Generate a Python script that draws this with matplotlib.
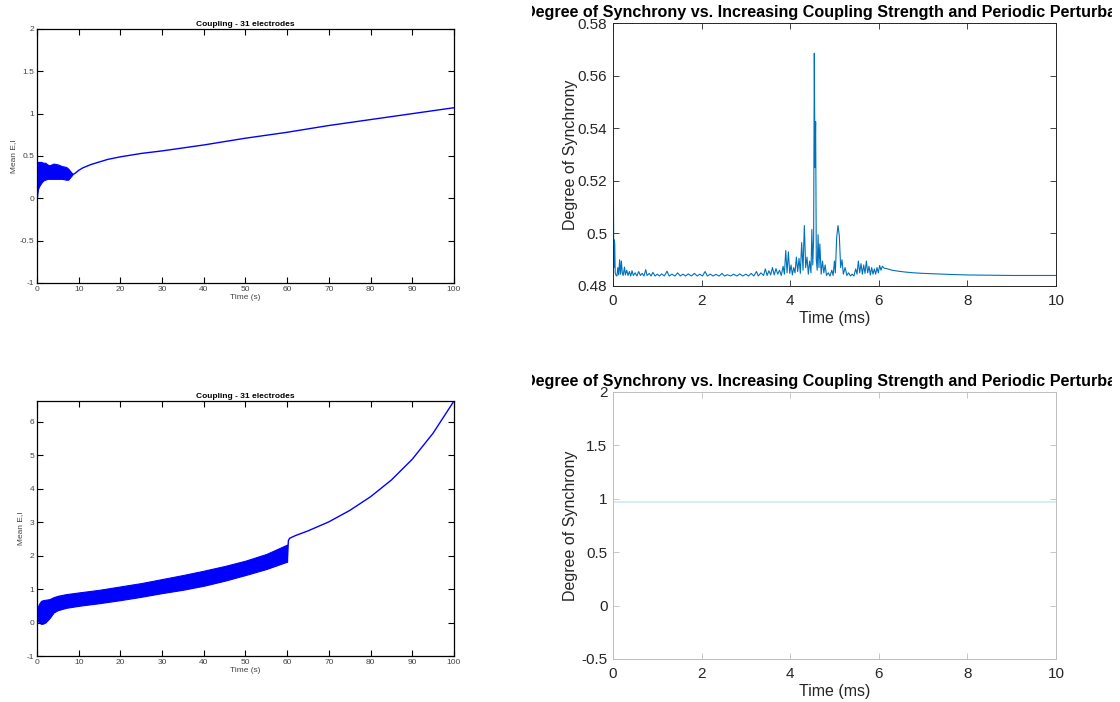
import matplotlib
matplotlib.use('Agg')
import matplotlib.pyplot as plt
from matplotlib.ticker import FormatStrFormatter
from matplotlib.transforms import Bbox

plt.rcParams['font.family'] = ['Liberation Sans', 'DejaVu Sans']

# --- Coupling panel 1 (top left): oscillating band then smooth rise ---
band1_t = [0.0, 0.1, 0.2, 0.5, 1.0, 1.5, 2.0, 2.5, 3.0, 3.5, 4.0, 5.0, 6.0, 7.0, 7.5, 8.0, 8.5]
band1_hi = [0.02, 0.30, 0.43, 0.43, 0.43, 0.42, 0.42, 0.40, 0.39, 0.40, 0.41, 0.40, 0.38, 0.37, 0.35, 0.32, 0.29]
band1_lo = [0.0, 0.06, 0.10, 0.14, 0.18, 0.21, 0.22, 0.23, 0.23, 0.23, 0.23, 0.23, 0.23, 0.22, 0.22, 0.25, 0.28]
tail1_t = [8.5, 9.0, 10.0, 11.0, 12.0, 13.0, 15.0, 17.0, 20.0, 25.0, 30.0, 40.0, 50.0, 60.0, 70.0, 80.0, 90.0, 100.0]
tail1_v = [0.28, 0.29, 0.33, 0.36, 0.38, 0.40, 0.43, 0.46, 0.49, 0.53, 0.56, 0.63, 0.71, 0.78, 0.86, 0.93, 1.00, 1.07]

# --- Coupling panel 2 (bottom left) ---
band2_t = [0.0, 0.3, 0.5, 1.0, 1.5, 2.0, 3.0, 4.0, 5.0, 7.0, 10.0, 15.0, 20.0, 25.0, 30.0, 35.0, 40.0, 45.0, 50.0, 55.0, 60.0]
band2_hi = [0.40, 0.50, 0.56, 0.65, 0.67, 0.68, 0.70, 0.76, 0.80, 0.85, 0.90, 0.98, 1.08, 1.18, 1.30, 1.42, 1.55, 1.69, 1.85, 2.05, 2.33]
band2_lo = [0.10, 0.03, 0.00, -0.04, -0.03, 0.00, 0.13, 0.30, 0.37, 0.44, 0.50, 0.58, 0.67, 0.77, 0.88, 0.98, 1.10, 1.25, 1.42, 1.60, 1.82]
tail2_t = [60.0, 60.3, 60.6, 62.0, 65.0, 70.0, 75.0, 80.0, 85.0, 90.0, 95.0, 100.0]
tail2_v = [1.82, 2.45, 2.52, 2.60, 2.74, 3.01, 3.35, 3.76, 4.26, 4.88, 5.66, 6.62]

# --- Degree of synchrony, run 1 (top right) ---
sync_t = [0.00, 0.01, 0.02, 0.03, 0.04, 0.05, 0.07, 0.09, 0.11, 0.13, 0.15, 0.17, 0.19, 0.21, 0.23,
          0.26, 0.28, 0.31, 0.34, 0.37, 0.40, 0.43, 0.46, 0.50, 0.54, 0.58, 0.62, 0.66, 0.70, 0.74,
          0.77, 0.82, 0.86, 0.90, 0.95, 1.00, 1.05, 1.10, 1.16, 1.22, 1.27, 1.33, 1.40, 1.46, 1.52,
          1.58, 1.64, 1.70, 1.77, 1.84, 1.90, 1.96, 2.02, 2.08, 2.13, 2.20, 2.26, 2.32, 2.40, 2.46,
          2.52, 2.58, 2.66, 2.72, 2.80, 2.86, 2.93, 3.00, 3.06, 3.12, 3.18, 3.24, 3.28, 3.34, 3.40,
          3.44, 3.48, 3.52, 3.56, 3.60, 3.64, 3.68, 3.72, 3.76, 3.80, 3.84, 3.87, 3.90, 3.93, 3.96,
          3.99, 4.02, 4.05, 4.08, 4.11, 4.14, 4.17, 4.20, 4.23, 4.26, 4.29, 4.32, 4.35, 4.38, 4.41,
          4.44, 4.47, 4.49, 4.51, 4.53, 4.545, 4.56, 4.575, 4.59, 4.61, 4.63, 4.65, 4.67, 4.70, 4.73,
          4.76, 4.79, 4.82, 4.86, 4.90, 4.94, 4.97, 5.00, 5.02, 5.05, 5.08, 5.11, 5.14, 5.17, 5.20,
          5.24, 5.28, 5.32, 5.36, 5.40, 5.44, 5.48, 5.51, 5.54, 5.57, 5.60, 5.63, 5.66, 5.69, 5.72,
          5.75, 5.78, 5.81, 5.84, 5.87, 5.90, 5.93, 5.96, 5.99, 6.02, 6.05, 6.08, 6.12, 6.20, 6.30,
          6.45, 6.60, 6.80, 7.00, 7.30, 7.60, 8.00, 8.50, 9.00, 9.50, 10.00]
sync_v = [0.5280, 0.5150, 0.4870, 0.4975, 0.4960, 0.4850, 0.4840, 0.4838, 0.4870, 0.4842, 0.4900, 0.4845, 0.4895, 0.4850, 0.4840,
          0.4872, 0.4842, 0.4860, 0.4840, 0.4855, 0.4838, 0.4858, 0.4840, 0.4850, 0.4838, 0.4855, 0.4840, 0.4848, 0.4838, 0.4862,
          0.4840, 0.4848, 0.4838, 0.4852, 0.4838, 0.4845, 0.4838, 0.4846, 0.4838, 0.4856, 0.4838, 0.4845, 0.4838, 0.4850, 0.4838,
          0.4845, 0.4838, 0.4846, 0.4838, 0.4848, 0.4838, 0.4845, 0.4838, 0.4855, 0.4838, 0.4845, 0.4838, 0.4844, 0.4838, 0.4848,
          0.4838, 0.4843, 0.4838, 0.4845, 0.4838, 0.4846, 0.4838, 0.4845, 0.4838, 0.4848, 0.4838, 0.4855, 0.4838, 0.4850, 0.4840,
          0.4865, 0.4840, 0.4858, 0.4842, 0.4870, 0.4842, 0.4866, 0.4845, 0.4860, 0.4840, 0.4875, 0.4845, 0.4935, 0.4850, 0.4930,
          0.4848, 0.4880, 0.4842, 0.4870, 0.4850, 0.4910, 0.4855, 0.4905, 0.4848, 0.4965, 0.4860, 0.5030, 0.4870, 0.4910, 0.4845,
          0.4895, 0.4850, 0.5015, 0.4880, 0.4980, 0.5685, 0.5250, 0.5425, 0.4900, 0.4860, 0.4995, 0.4870, 0.4960, 0.4845, 0.4895,
          0.4850, 0.4880, 0.4840, 0.4850, 0.4838, 0.4860, 0.4840, 0.4895, 0.4850, 0.4985, 0.5030, 0.4990, 0.4870, 0.4900, 0.4845,
          0.4870, 0.4840, 0.4850, 0.4838, 0.4845, 0.4838, 0.4865, 0.4845, 0.4895, 0.4850, 0.4885, 0.4845, 0.4880, 0.4848, 0.4895,
          0.4850, 0.4875, 0.4842, 0.4870, 0.4845, 0.4865, 0.4845, 0.4870, 0.4850, 0.4878, 0.4860, 0.4875, 0.4868, 0.4865, 0.4860,
          0.4856, 0.4853, 0.4850, 0.4848, 0.4846, 0.4844, 0.4842, 0.4841, 0.4840, 0.4840, 0.4840]

# --- Degree of synchrony, run 2 (bottom right): flat line ---
sync2_t = [0.0, 10.0]
sync2_v = [0.97, 0.97]

fig = plt.figure(figsize=(11.2, 7.02), dpi=100)

def octave_axes(ax, ylim, yticks):
    ax.set_xlim(0, 100)
    ax.set_ylim(*ylim)
    ax.set_xticks(range(0, 101, 10))
    ax.set_yticks(yticks)
    ax.yaxis.set_major_formatter(FormatStrFormatter('%g'))
    ax.tick_params(direction='in', top=True, right=True, labelsize=6, length=4,
                   width=0.8, colors='black', labelcolor='#444444', pad=2)
    for s in ax.spines.values():
        s.set_linewidth(0.9)
    ax.set_title('Coupling - 31 electrodes', fontsize=6, fontweight='bold', pad=2)
    ax.set_xlabel('Time (s)', fontsize=6, labelpad=1, color='#444444')
    ax.set_ylabel('Mean E,I', fontsize=6, labelpad=2, color='#444444')

ax1 = fig.add_axes([0.033, 0.5969, 0.3723, 0.3618])
ax1.fill_between(band1_t, band1_lo, band1_hi, color='#0000ff', linewidth=0.8)
ax1.plot(tail1_t, tail1_v, color='#0000ff', linewidth=1)
octave_axes(ax1, (-1, 2), [-1, -0.5, 0, 0.5, 1, 1.5, 2])

ax3 = fig.add_axes([0.033, 0.0655, 0.3723, 0.3632])
ax3.fill_between(band2_t, band2_lo, band2_hi, color='#0000ff', linewidth=0.8)
ax3.plot(tail2_t, tail2_v, color='#0000ff', linewidth=1)
octave_axes(ax3, (-1, 6.62), [-1, 0, 1, 2, 3, 4, 5, 6])

title_txt = 'Degree of Synchrony vs. Increasing Coupling Strength and Periodic Perturbation'
# the long MATLAB title runs past its own figure window, so it is cut on both sides
title_clip = Bbox.from_extents(532, 0, 1112, 702)

def matlab_axes(ax, ylim, yticks, edge):
    ax.set_xlim(0, 10)
    ax.set_ylim(*ylim)
    ax.set_xticks([0, 2, 4, 6, 8, 10])
    ax.set_yticks(yticks)
    ax.yaxis.set_major_formatter(FormatStrFormatter('%g'))
    ax.tick_params(direction='in', top=True, right=True, labelsize=11, length=4,
                   width=0.6, colors=edge, labelcolor='#262626')
    ax.tick_params(axis='x', pad=6)
    ax.tick_params(axis='y', pad=4)
    for s in ax.spines.values():
        s.set_linewidth(0.7)
        s.set_edgecolor(edge)
    t = ax.set_title(title_txt, fontsize=11.6, fontweight='bold', pad=4.5)
    t.set_clip_box(title_clip)
    t.set_clip_on(True)
    ax.set_xlabel('Time (ms)', fontsize=11.5, labelpad=2, color='#262626')
    ax.set_ylabel('Degree of Synchrony', fontsize=11.5, color='#262626')
    ax.yaxis.set_label_coords(-0.078, 0.5)

ax2 = fig.add_axes([0.5473, 0.5926, 0.3955, 0.3746])
ax2.plot(sync_t, sync_v, color='#0072bd', linewidth=0.8)
matlab_axes(ax2, (0.48, 0.58), [0.48, 0.5, 0.52, 0.54, 0.56, 0.58], '#262626')

ax4 = fig.add_axes([0.5473, 0.0613, 0.3955, 0.3803])
ax4.plot(sync2_t, sync2_v, color='#cde9f8', linewidth=1.2)
matlab_axes(ax4, (-0.5, 2), [-0.5, 0, 0.5, 1, 1.5, 2], '#bdbdbd')

fig.savefig('out.png', dpi=100)
